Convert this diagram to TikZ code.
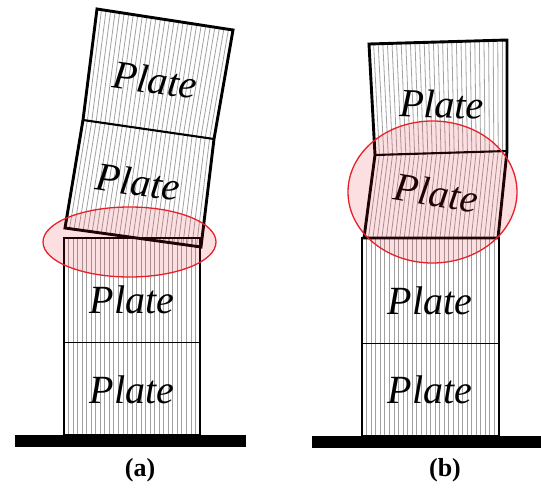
\documentclass[tikz,border=0pt]{standalone}
\usepackage{fontspec}
\setmainfont{Liberation Serif}
\usepackage{xcolor}
\definecolor{contactred}{HTML}{E8202A}
\definecolor{hatchgray}{HTML}{A0A0A0}
\usepackage{tikz}
\usetikzlibrary{calc}

\tikzset{
  plate/.style={draw=black, line width=2.9pt, line join=miter},
  seam/.style={draw=black, line width=2.1pt},
  divider/.style={draw=black, line width=1pt},
  hatch/.style={draw=hatchgray, line width=0.8pt},
  platelabel/.style={font=\itshape\fontsize{40}{40}\selectfont, inner sep=0pt},
  contact/.style={draw=contactred, line width=1.3pt, fill=contactred, fill opacity=0.14},
  ground/.style={fill=black},
  caption/.style={font=\bfseries\fontsize{26}{26}\selectfont, inner sep=0pt}
}
% vertical hatching between two edges: bottom-left, bottom-right, top-right, top-left
\newcommand{\hatchquad}[4]{%
  \foreach \k in {1,...,29} {
    \draw[hatch] ($(#1)!{\k/30}!(#2)$) -- ($(#4)!{\k/30}!(#3)$);
  }}

\begin{document}
\begin{tikzpicture}[x=1pt, y=-1pt]
    \useasboundingbox (0,0) rectangle (541,488);
    % ---------- (a) ----------
    \coordinate (a-bl) at (64,435);  \coordinate (a-br) at (200,435);
    \coordinate (a-ml) at (64,342);  \coordinate (a-mr) at (200,342);
    \coordinate (a-tl) at (64,238);  \coordinate (a-tr) at (200,238);
    \coordinate (at-bl) at (65,228); \coordinate (at-br) at (201,247);
    \coordinate (at-ml) at (83,120); \coordinate (at-mr) at (214,139);
    \coordinate (at-tl) at (97,9);   \coordinate (at-tr) at (233,30);
    \hatchquad{a-bl}{a-br}{a-tr}{a-tl}
    \hatchquad{at-bl}{at-br}{at-mr}{at-ml}
    \hatchquad{at-ml}{at-mr}{at-tr}{at-tl}
    \draw[plate] (a-bl) rectangle (a-tr);
    \draw[divider] (a-ml) -- (a-mr);
    \draw[plate] (at-bl) -- (at-br) -- (at-mr) -- (at-tr) -- (at-tl) -- (at-ml) -- cycle;
    \draw[seam] (at-ml) -- (at-mr);
    \fill[ground] (15,435) rectangle (246,447);
    % labels
    \node[platelabel, rotate=-8] (pa1) at (155,80)  {Plate};
    \node[platelabel, rotate=-8] (pa2) at (138,182) {Plate};
    \node[platelabel] (pa3) at (132,300) {Plate};
    \node[platelabel] (pa4) at (132,390) {Plate};
    \draw[contact] (129.5,242) ellipse [x radius=86.5, y radius=35];
    \node[caption] (capa) at (140,470) {(a)};

    % ---------- (b) ----------
    \coordinate (b-bl) at (362,436); \coordinate (b-br) at (499,436);
    \coordinate (b-ml) at (362,343); \coordinate (b-mr) at (499,343);
    \coordinate (b-tl) at (362,238); \coordinate (b-tr) at (499,238);
    \coordinate (bs-bl) at (364,238); \coordinate (bs-br) at (498,238);
    \coordinate (bs-tl) at (375,155); \coordinate (bs-tr) at (507,151);
    \coordinate (bt-tl) at (369,44);  \coordinate (bt-tr) at (507,40);
    \hatchquad{b-bl}{b-br}{b-tr}{b-tl}
    \hatchquad{bs-bl}{bs-br}{bs-tr}{bs-tl}
    \hatchquad{bs-tl}{bs-tr}{bt-tr}{bt-tl}
    \draw[plate] (b-bl) rectangle (b-tr);
    \draw[divider] (b-ml) -- (b-mr);
    \draw[plate] (bs-bl) -- (bs-br) -- (bs-tr) -- (bt-tr) -- (bt-tl) -- (bs-tl) -- cycle;
    \draw[seam] (bs-tl) -- (bs-tr);
    \fill[ground] (312,436) rectangle (541,448);
    % labels
    \node[platelabel, rotate=-2] (pb1) at (442,104) {Plate};
    \node[platelabel, rotate=-9] (pb2) at (436,193) {Plate};
    \node[platelabel] (pb3) at (430,301) {Plate};
    \node[platelabel] (pb4) at (430,390) {Plate};
    \draw[contact] (432.5,192) ellipse [x radius=84.5, y radius=71];
    \node[caption] (capb) at (445,470) {(b)};
\end{tikzpicture}
\end{document}
